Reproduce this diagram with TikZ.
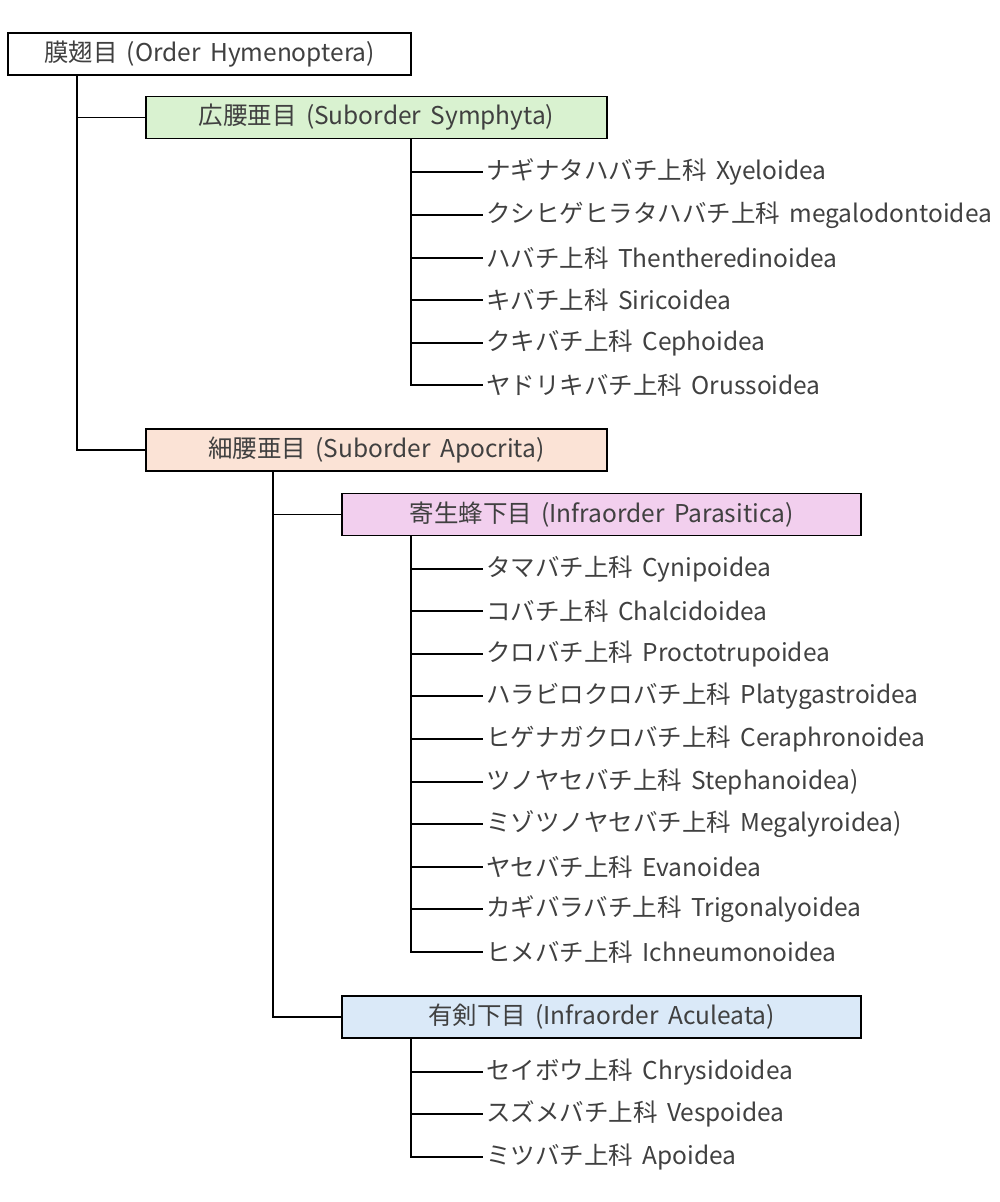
\documentclass[tikz,border=0pt]{standalone}
\usepackage{fontspec}
\setmainfont[WordSpace=1.7]{Noto Sans CJK JP}
\usetikzlibrary{positioning}
\definecolor{symg}{HTML}{D9F2D0}
\definecolor{apoo}{HTML}{FBE3D6}
\definecolor{parp}{HTML}{F2CFEE}
\definecolor{acub}{HTML}{DAE9F8}
\tikzset{
    mybox/.style = {rectangle, line width=1.4pt, draw=black, align=center, inner sep=0pt, minimum height=42pt, font=\fontsize{24.5}{28}\selectfont, text=black!75},
    myboxw/.style = {mybox, fill=white, minimum width=403pt},
    myboxg/.style = {mybox, fill=symg, minimum width=461pt},
    myboxo/.style = {mybox, fill=apoo, minimum width=461pt},
    myboxp/.style = {mybox, fill=parp, minimum width=519pt},
    myboxb/.style = {mybox, fill=acub, minimum width=519pt},
    myleaf/.style = {anchor=west, inner sep=3pt, font=\fontsize{24.5}{28}\selectfont, text=black!75},
    edgen/.style = {-, line width=1.4pt, black},
}

\begin{document}
\begin{tikzpicture}[x=1pt,y=-1pt]
\path[use as bounding box] (0,0) rectangle (1000,1202);
\node[myboxw] at (209.5, 54) (ord) {膜翅目 (Order Hymenoptera)};
\node[myboxg] at (376.5, 117.5) (sym) {広腰亜目 (Suborder Symphyta)};
\node[myboxo] at (376.5, 450) (apo) {細腰亜目 (Suborder Apocrita)};
\node[myboxp] at (601.5, 514.5) (par) {寄生蜂下目 (Infraorder Parasitica)};
\node[myboxb] at (601.5, 1017) (acu) {有剣下目 (Infraorder Aculeata)};
%
\coordinate (oc) at (77, 75);
\coordinate (sc) at (411, 139);
\coordinate (ac) at (273, 471);
\coordinate (pc) at (411, 536);
\coordinate (uc) at (411, 1038);
%
\node[myleaf] at (483, 172) (s1) {ナギナタハバチ上科 Xyeloidea};
\node[myleaf] at (483, 215) (s2) {クシヒゲヒラタハバチ上科 megalodontoidea};
\node[myleaf] at (483, 258) (s3) {ハバチ上科 Thentheredinoidea};
\node[myleaf] at (483, 300) (s4) {キバチ上科 Siricoidea};
\node[myleaf] at (483, 343) (s5) {クキバチ上科 Cephoidea};
\node[myleaf] at (483, 385) (s6) {ヤドリキバチ上科 Orussoidea};
%
\node[myleaf] at (483, 569) (p1) {タマバチ上科 Cynipoidea};
\node[myleaf] at (483, 611) (p2) {コバチ上科 Chalcidoidea};
\node[myleaf] at (483, 654) (p3) {クロバチ上科 Proctotrupoidea};
\node[myleaf] at (483, 696) (p4) {ハラビロクロバチ上科 Platygastroidea};
\node[myleaf] at (483, 739) (p5) {ヒゲナガクロバチ上科 Ceraphronoidea};
\node[myleaf] at (483, 782) (p6) {ツノヤセバチ上科 Stephanoidea)};
\node[myleaf] at (483, 824) (p7) {ミゾツノヤセバチ上科 Megalyroidea)};
\node[myleaf] at (483, 867) (p8) {ヤセバチ上科 Evanoidea};
\node[myleaf] at (483, 909) (p9) {カギバラバチ上科 Trigonalyoidea};
\node[myleaf] at (483, 952) (p10) {ヒメバチ上科 Ichneumonoidea};
%
\node[myleaf] at (483, 1072) (u1) {セイボウ上科 Chrysidoidea};
\node[myleaf] at (483, 1114) (u2) {スズメバチ上科 Vespoidea};
\node[myleaf] at (483, 1157) (u3) {ミツバチ上科 Apoidea};
%
\draw[edgen] (oc) |- (sym.west);
\draw[edgen] (oc) |- (apo.west);
\draw[edgen] (ac) |- (par.west);
\draw[edgen] (ac) |- (acu.west);
%
\draw[edgen] (sc) |- (s1.west);
\draw[edgen] (sc) |- (s2.west);
\draw[edgen] (sc) |- (s3.west);
\draw[edgen] (sc) |- (s4.west);
\draw[edgen] (sc) |- (s5.west);
\draw[edgen] (sc) |- (s6.west);
%
\draw[edgen] (pc) |- (p1.west);
\draw[edgen] (pc) |- (p2.west);
\draw[edgen] (pc) |- (p3.west);
\draw[edgen] (pc) |- (p4.west);
\draw[edgen] (pc) |- (p5.west);
\draw[edgen] (pc) |- (p6.west);
\draw[edgen] (pc) |- (p7.west);
\draw[edgen] (pc) |- (p8.west);
\draw[edgen] (pc) |- (p9.west);
\draw[edgen] (pc) |- (p10.west);
%
\draw[edgen] (uc) |- (u1.west);
\draw[edgen] (uc) |- (u2.west);
\draw[edgen] (uc) |- (u3.west);
\end{tikzpicture}
\end{document}
